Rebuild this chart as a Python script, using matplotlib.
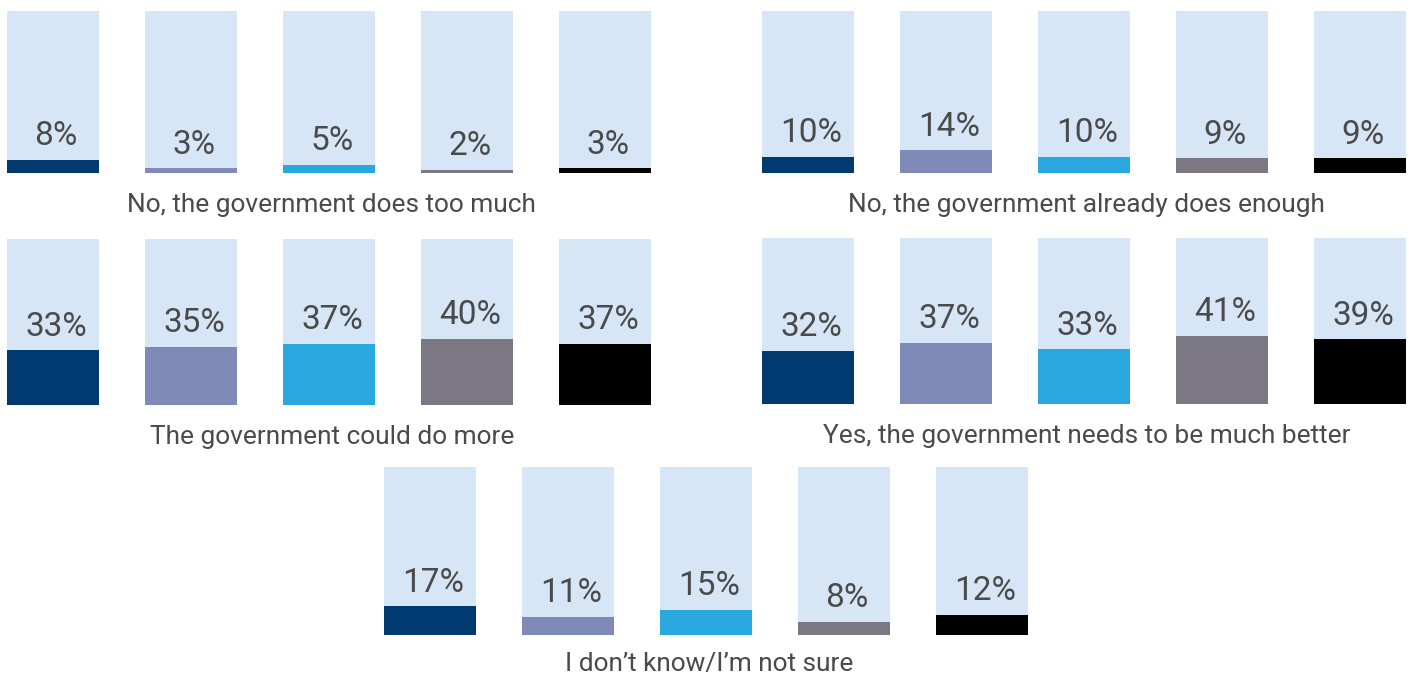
import matplotlib
matplotlib.use("Agg")
import matplotlib.pyplot as plt
from matplotlib.transforms import offset_copy

plt.rcParams['font.family'] = ['Roboto', 'DejaVu Sans']

groups = ["G1", "G2", "G3", "G4", "G5"]
colors = ["#003a70", "#7f8ab8", "#29a8e0", "#7b7783", "#000000"]
bg_color = "#d6e6f6"
text_color = "#4a4a4a"

categories = [
    "No, the government does too much",
    "No, the government already does enough",
    "The government could do more",
    "Yes, the government needs to be much better",
    "I don\u2019t know/I\u2019m not sure",
]
values_too_much = [8, 3, 5, 2, 3]
values_enough = [10, 14, 10, 9, 9]
values_could_more = [33, 35, 37, 40, 37]
values_much_better = [32, 37, 33, 41, 39]
values_not_sure = [17, 11, 15, 8, 12]
all_values = [values_too_much, values_enough, values_could_more,
              values_much_better, values_not_sure]

W, H = 1410, 676
fig = plt.figure(figsize=(W / 100, H / 100), dpi=100)

# panel pixel boxes: (left, top, bottom, label gap px)
boxes = [(7, 11, 173, 39), (762, 11, 173, 39), (7, 239, 405, 39),
         (762, 238, 404, 39), (384, 467, 635, 36)]
panel_w = 644

for cat, vals, (l, t, b, gap) in zip(categories, all_values, boxes):
    ax = fig.add_axes([l / W, 1 - b / H, panel_w / W, (b - t) / H])
    x = list(range(len(groups)))
    wbar = 92 / 138
    ax.bar(x, [100] * len(x), width=wbar, color=bg_color, linewidth=0)
    ax.bar(x, vals, width=wbar, color=colors, linewidth=0)
    ax.set_xlim(-wbar / 2, len(x) - 1 + wbar / 2)
    ax.set_ylim(0, 100)
    ax.axis('off')
    tr = offset_copy(ax.transData, fig=fig, x=2.2, y=10.5, units='points')
    for xi, v in zip(x, vals):
        ax.text(xi, v, f"{v}%", transform=tr, ha='center', va='baseline',
                fontsize=24, color=text_color)
    trc = offset_copy(ax.transAxes, fig=fig, x=2, y=-gap * 0.72, units='points')
    ax.text(0.5, 0, cat, transform=trc, ha='center', va='baseline',
            fontsize=18.9, color=text_color)

fig.savefig("out.png", dpi=100)
